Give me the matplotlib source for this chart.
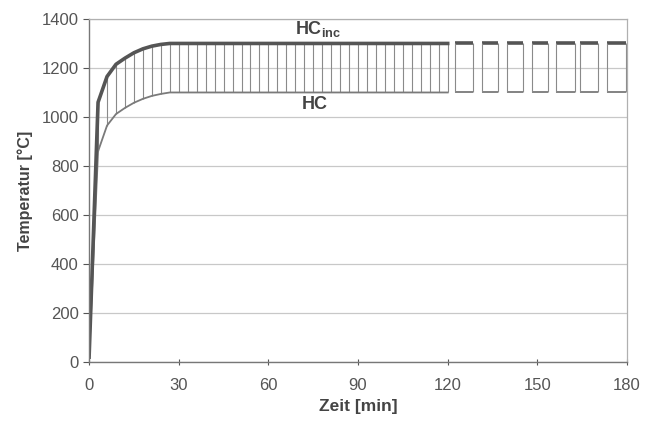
import numpy as np
import matplotlib.pyplot as plt

plt.rcParams['font.family'] = ['Liberation Sans', 'DejaVu Sans']
plt.rcParams['mathtext.fontset'] = 'custom'
plt.rcParams['mathtext.bf'] = 'Liberation Sans:bold'
plt.rcParams['mathtext.rm'] = 'Liberation Sans'

# Zeit [min] und Temperatur [°C]
t = [0, 3, 6, 9, 12, 15, 18, 21, 24, 27, 30, 45, 60, 75, 90, 105, 120]
hc_inc = [20, 1060, 1165, 1215, 1240, 1262, 1278, 1289, 1296, 1300, 1300, 1300, 1300, 1300, 1300, 1300, 1300]
hc = [20, 860, 965, 1012, 1037, 1058, 1074, 1086, 1094, 1100, 1100, 1100, 1100, 1100, 1100, 1100, 1100]

# Schraffur alle 3 min
hatch_t = np.arange(3, 121, 3)

# gestrichelter Bereich nach 120 min
dash_start = [122.5, 131.5, 139.9, 148.2, 156.3, 164.3, 173.3]
dash_end = [128.5, 136.9, 145.2, 153.6, 162.6, 170.3, 179.5]
hc_inc_end = 1300
hc_end = 1100

fig = plt.figure(figsize=(6.6, 4.21), dpi=100)
ax = fig.add_axes([0.135, 0.14, 0.815, 0.815])

ax.set_xlim(0, 180)
ax.set_ylim(0, 1400)
ax.set_xticks(range(0, 181, 30))
ax.set_yticks(range(0, 1401, 200))
ax.grid(axis='y', color='#c8c8c8', lw=0.9)
ax.set_axisbelow(True)

# Schraffur zwischen den Kurven
lo = np.interp(hatch_t, t, hc)
hi = np.interp(hatch_t, t, hc_inc)
ax.vlines(hatch_t, lo, hi, color='#8a8a8a', lw=0.8)

ax.plot(t, hc, color='#7a7a7a', lw=1.3)
ax.plot(t, hc_inc, color='#555555', lw=2.6, solid_joinstyle='round')

for a, b in zip(dash_start, dash_end):
    ax.plot([a, b], [hc_inc_end, hc_inc_end], color='#555555', lw=2.6, solid_capstyle='butt')
    ax.plot([a, b], [hc_end, hc_end], color='#7a7a7a', lw=1.3, solid_capstyle='butt')
    ax.vlines([a, b], hc_end, hc_inc_end, color='#8a8a8a', lw=0.8)

ax.text(69, 1360, 'HC$_{\\mathbf{inc}}$', fontsize=13, fontweight='bold',
        color='#444444', va='center')
ax.text(71, 1050, 'HC', fontsize=13, fontweight='bold', color='#444444', va='center')

ax.set_xlabel('Zeit [min]', fontsize=12.5, fontweight='bold', color='#444444', labelpad=4)
ax.set_ylabel('Temperatur [°C]', fontsize=11.5, fontweight='bold', color='#444444', labelpad=6)
ax.tick_params(labelsize=12, colors='#555555', width=0.8)
ax.tick_params(axis='x', direction='inout', length=5, pad=9)
ax.tick_params(axis='y', length=4)

for s in ['left', 'bottom']:
    ax.spines[s].set_color('#777777')
    ax.spines[s].set_linewidth(1.0)
for s in ['top', 'right']:
    ax.spines[s].set_color('#b0b0b0')
    ax.spines[s].set_linewidth(0.9)

fig.savefig('out.png', dpi=100)
